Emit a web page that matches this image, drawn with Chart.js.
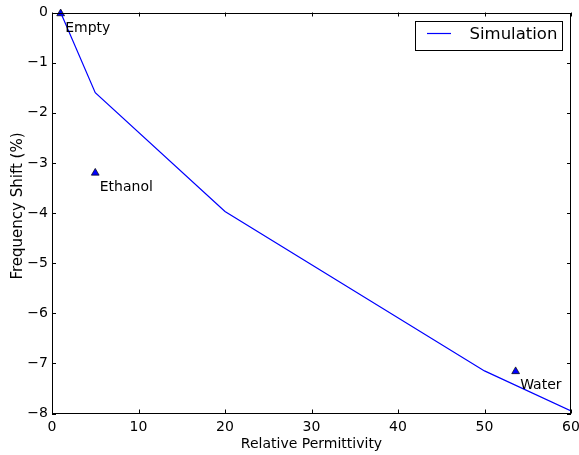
<!DOCTYPE html>
<html>
<head>
<meta charset="utf-8">
<script src="https://cdn.jsdelivr.net/npm/chart.js@4/dist/chart.umd.min.js"></script>
<style>
  html, body { margin: 0; padding: 0; background: #ffffff; }
  #wrap { width: 579px; height: 455px; }
</style>
</head>
<body>
<div id="wrap"><canvas id="c" width="579" height="455"></canvas></div>
<script>
// ---- data ----
const simLabel = 'Simulation';
const simX = [1, 5, 20, 50, 60];
const simY = [0, -1.6, -3.97, -7.15, -7.95];

const measLabels = ['Empty', 'Ethanol', 'Water'];
const measX = [1, 5, 53.6];
const measY = [-0.02, -3.2, -7.16];

const xTitle = 'Relative Permittivity';
const yTitle = 'Frequency Shift (%)';
const xMin = 0, xMax = 60, xStep = 10;
const yMin = -8, yMax = 0, yStep = 1;

const FONT = 'DejaVu Sans';

const fmt = v => (v < 0 ? '\u2212' + Math.abs(v) : String(v));
const noPad = s => { s.paddingLeft = 0; s.paddingRight = 0; s.paddingTop = 0; s.paddingBottom = 0; };

const frame = {
  id: 'frame',
  afterDatasetsDraw(chart) {
    const {ctx, chartArea: a, scales: {x, y}} = chart;
    ctx.save();
    ctx.strokeStyle = '#000';
    ctx.lineWidth = 1;
    ctx.strokeRect(Math.round(a.left) + 0.5, Math.round(a.top) + 0.5,
                   Math.round(a.right - a.left) - 1, Math.round(a.bottom - a.top) - 1);
    const tl = 4;
    ctx.beginPath();
    x.ticks.forEach(t => {
      const px = Math.round(x.getPixelForValue(t.value)) + 0.5;
      ctx.moveTo(px, a.bottom); ctx.lineTo(px, a.bottom - tl);
      ctx.moveTo(px, a.top); ctx.lineTo(px, a.top + tl);
    });
    y.ticks.forEach(t => {
      const py = Math.round(y.getPixelForValue(t.value)) + 0.5;
      ctx.moveTo(a.left, py); ctx.lineTo(a.left + tl, py);
      ctx.moveTo(a.right, py); ctx.lineTo(a.right - tl, py);
    });
    ctx.stroke();

    // point annotations
    ctx.fillStyle = '#000';
    ctx.font = '14px "' + FONT + '"';
    ctx.textAlign = 'left';
    ctx.textBaseline = 'alphabetic';
    measLabels.forEach((lab, i) => {
      const px = x.getPixelForValue(measX[i]);
      const py = y.getPixelForValue(measY[i]);
      ctx.fillText(lab, px + 4.5, py + 18);
    });

    // y-axis title
    ctx.save();
    ctx.translate(17.7, 206);
    ctx.rotate(-Math.PI / 2);
    ctx.textAlign = 'center';
    ctx.textBaseline = 'middle';
    ctx.font = '15px "' + FONT + '"';
    ctx.fillText(yTitle, 0, 0);
    ctx.restore();

    // legend
    const lx = 415.5, ly = 21.5, lw = 147, lh = 29;
    ctx.fillStyle = '#fff';
    ctx.fillRect(lx, ly, lw, lh);
    ctx.strokeStyle = '#000';
    ctx.strokeRect(lx, ly, lw, lh);
    const ds = chart.data.datasets[0];
    ctx.strokeStyle = ds.borderColor;
    ctx.lineWidth = ds.borderWidth;
    ctx.beginPath();
    ctx.moveTo(427, 33.5); ctx.lineTo(451, 33.5);
    ctx.stroke();
    ctx.fillStyle = '#000';
    ctx.font = '16.5px "' + FONT + '"';
    ctx.textBaseline = 'middle';
    ctx.fillText(ds.label, 469.5, 35);
    ctx.restore();
  }
};

new Chart(document.getElementById('c'), {
  type: 'scatter',
  data: {
    datasets: [
      {
        label: simLabel,
        data: simX.map((v, i) => ({x: v, y: simY[i]})),
        showLine: true,
        borderColor: '#0000ff',
        borderWidth: 1.2,
        pointRadius: 0,
        fill: false,
        tension: 0
      },
      {
        label: 'Measurement',
        data: measX.map((v, i) => ({x: v, y: measY[i]})),
        showLine: false,
        pointStyle: 'triangle',
        pointRadius: 4.5,
        backgroundColor: '#0000ff',
        borderColor: '#000',
        borderWidth: 0.7,
        clip: false
      }
    ]
  },
  options: {
    responsive: false,
    animation: false,
    devicePixelRatio: 1,
    layout: { padding: { top: 12.5, right: 8, left: 0, bottom: 0 } },
    plugins: { legend: { display: false }, tooltip: { enabled: false } },
    scales: {
      x: {
        type: 'linear', min: xMin, max: xMax,
        afterFit: s => { s.height = 41.5; noPad(s); },
        grid: { display: false, drawTicks: false },
        border: { display: false },
        ticks: { stepSize: xStep, color: '#000', padding: 5, font: { family: FONT, size: 14 }, callback: fmt, maxRotation: 0 },
        title: { display: true, text: xTitle, color: '#000', font: { family: FONT, size: 14 }, padding: { top: 0, bottom: 2.5 } }
      },
      y: {
        type: 'linear', min: yMin, max: yMax,
        afterFit: s => { s.width = 52; noPad(s); },
        grid: { display: false, drawTicks: false },
        border: { display: false },
        ticks: { stepSize: yStep, color: '#000', padding: 4, font: { family: FONT, size: 14 }, callback: fmt },
        title: { display: false, text: yTitle }
      }
    }
  },
  plugins: [frame]
});
</script>
</body>
</html>
